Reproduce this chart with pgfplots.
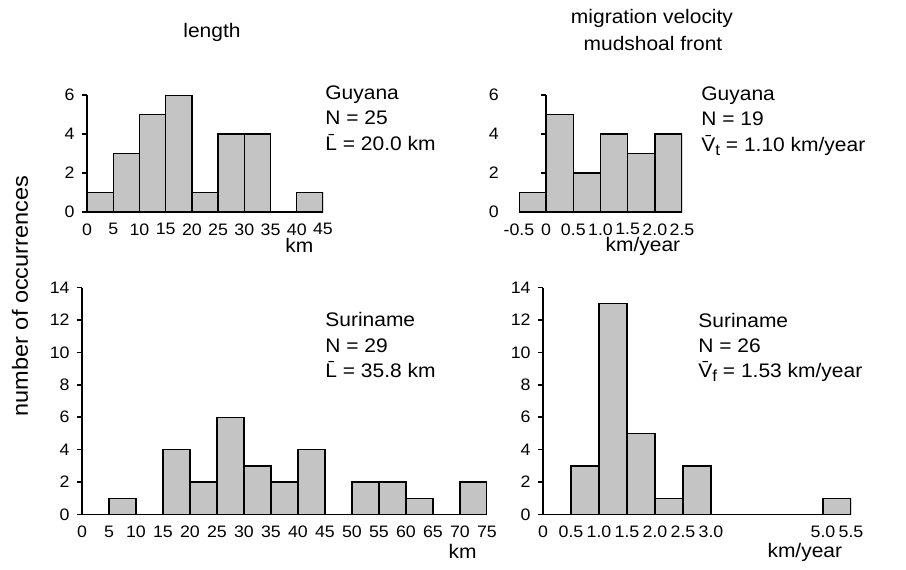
\documentclass[border=0pt]{standalone}
\usepackage{fontspec}
\setmainfont{Liberation Sans}[FakeStretch=1.07]
\usepackage{pgfplots}
\pgfplotsset{compat=1.18}

\definecolor{barfill}{gray}{0.77}

\pgfplotsset{
  histo/.style={
    scale only axis, anchor=south west,
    axis lines=left, axis line style={-, line width=0.8pt},
    enlargelimits=false, ymin=0,
    tick align=outside, major tick length=2.5pt,
    xtick style={draw=none},
    ytick style={line width=0.8pt, black},
    /pgf/number format/assume math mode=true,
    tick label style={font=\fontsize{8.3}{9}\selectfont},
    xticklabel style={inner sep=0pt, yshift=-3pt},
    yticklabel style={inner sep=0pt, xshift=-3.5pt},
    xlabel style={font=\fontsize{9.8}{11}\selectfont, inner sep=0pt, anchor=north},
  },
  bars/.style={ybar interval, fill=barfill, draw=black, line width=0.7pt},
}

\begin{document}
\begin{tikzpicture}
\path[use as bounding box] (0,0) rectangle (453pt,-284.5pt);

% top left: length, Guyana
\begin{axis}[histo, at={(43.5pt,-106pt)}, width=118pt, height=58.5pt,
  xmin=0, xmax=45, ymax=6,
  xtick={0,5,...,45}, ytick={0,2,4,6},
  xlabel={km}, xlabel style={at={(rel axis cs:0.9,0)}, yshift=-13pt}]
\addplot[bars] coordinates {(0,1)(5,3)(10,5)(15,6)(20,1)(25,4)(30,4)(35,0)(40,1)(45,0)};
\end{axis}

% top right: velocity, Guyana
\begin{axis}[histo, at={(259.5pt,-106pt)}, width=81.5pt, height=58.5pt,
  xmin=-0.5, xmax=2.5, ymax=6,
  axis y line shift=-13.6pt,
  yticklabel style={xshift=-17.5pt},
  xtick={-0.5,0,0.5,1,1.5,2,2.5},
  xticklabels={-0.5,0,0.5,1.0,1.5,2.0,2.5},
  ytick={0,2,4,6},
  xlabel={km/year}, xlabel style={at={(rel axis cs:0.76,0)}, yshift=-12.5pt}]
\addplot[bars] coordinates {(-0.5,1)(0,5)(0.5,2)(1.0,4)(1.5,3)(2.0,4)(2.5,0)};
\end{axis}

% bottom left: length, Suriname
\begin{axis}[histo, at={(41pt,-257.25pt)}, width=202.5pt, height=113.5pt,
  xmin=0, xmax=75, ymax=14,
  xtick={0,5,...,75}, ytick={0,2,...,14},
  xlabel={km}, xlabel style={at={(rel axis cs:0.94,0)}, yshift=-14.5pt}]
\addplot[bars] coordinates {(0,0)(5,1)(10,0)(15,4)(20,2)(25,6)(30,3)(35,2)(40,4)(45,0)(50,2)(55,2)(60,1)(65,0)(70,2)(75,0)};
\end{axis}

% bottom right: velocity, Suriname
\begin{axis}[histo, at={(271.5pt,-257.25pt)}, width=154pt, height=113.5pt,
  xmin=0, xmax=5.5, ymax=14,
  xtick={0,0.5,1,1.5,2,2.5,3,5,5.5},
  xticklabels={0,0.5,1.0,1.5,2.0,2.5,3.0,5.0,5.5},
  ytick={0,2,...,14},
  xlabel={km/year}, xlabel style={at={(rel axis cs:0.85,0)}, yshift=-14pt}]
\addplot[bars] coordinates {(0.5,3)(1.0,13)(1.5,5)(2.0,1)(2.5,3)(3.0,0)(5.0,1)(5.5,0)};
\end{axis}

% titles and notes
\begin{scope}[every node/.style={inner sep=0pt, font=\fontsize{9.8}{12}\selectfont}]
\node at (106pt,-16pt) {length};
\node at (326pt,-9pt) {migration velocity};
\node at (326.5pt,-21.5pt) {mudshoal front};

\node[anchor=base west] at (162.5pt,-49.5pt) {Guyana};
\node[anchor=base west] at (162.5pt,-62.25pt) {N = 25};
\node[anchor=base west] at (162.5pt,-75pt) {\={L} = 20.0 km};

\node[anchor=base west] at (350.5pt,-50pt) {Guyana};
\node[anchor=base west] at (350.5pt,-62.75pt) {N = 19};
\node[anchor=base west] at (350.5pt,-75.5pt) {\={V}\raisebox{-2pt}{\fontsize{8}{8}\selectfont t} = 1.10 km/year};

\node[anchor=base west] at (162.5pt,-163pt) {Suriname};
\node[anchor=base west] at (162.5pt,-176pt) {N = 29};
\node[anchor=base west] at (162.5pt,-188.5pt) {\={L} = 35.8 km};

\node[anchor=base west] at (349pt,-163.5pt) {Suriname};
\node[anchor=base west] at (349pt,-176pt) {N = 26};
\node[anchor=base west] at (349pt,-188.5pt) {\={V}\raisebox{-2pt}{\fontsize{8}{8}\selectfont f} = 1.53 km/year};

\node[rotate=90, font=\fontsize{11}{13}\selectfont] at (10pt,-148pt) {number of occurrences};
\end{scope}
\end{tikzpicture}
\end{document}
